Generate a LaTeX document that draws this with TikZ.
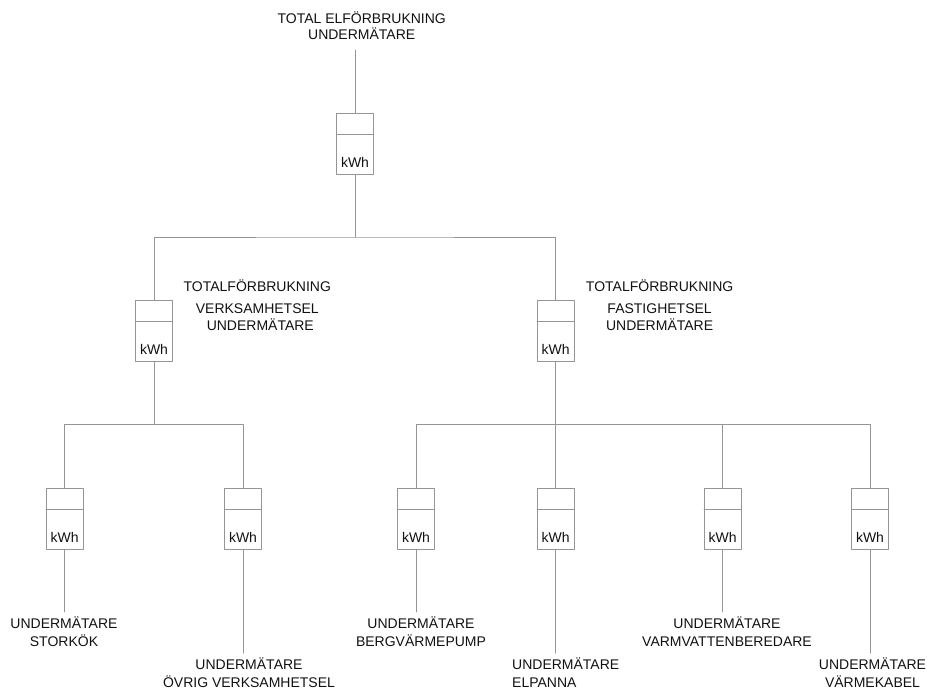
\documentclass[tikz,border=0pt]{standalone}
\usepackage{fontspec}
\setmainfont{Liberation Sans}
\usetikzlibrary{positioning}
\definecolor{linegray}{HTML}{959595}
\definecolor{txtgray}{HTML}{111111}
\tikzset{
  wire/.style={draw=linegray,line width=0.9pt},
  meter/.style={draw=linegray,line width=0.9pt,minimum width=36.5pt,minimum height=60.5pt,inner sep=0pt},
  kwh/.style={font=\fontsize{14}{16}\selectfont,text=txtgray,inner sep=0pt},
  lbl/.style={font=\fontsize{14}{18}\selectfont,text=txtgray,inner sep=0pt,align=center,anchor=north}
}
\newcommand{\kwhmeter}[3]{%
  \node[meter] (#1) at (#2,#3) {};
  \draw[wire] ([yshift=-21.5pt]#1.north west) -- ([yshift=-21.5pt]#1.north east);
  \node[kwh] (#1kwh) at ([yshift=12pt]#1.south) {kWh};
}
\begin{document}
\begin{tikzpicture}[line cap=round,line join=round,x=1pt,y=-1pt]
\useasboundingbox (0,0) rectangle (931,691);
\node[lbl,font=\fontsize{14}{16}\selectfont] (totalL) at (361.7,11.4) {TOTAL ELFÖRBRUKNING\\UNDERMÄTARE};
\kwhmeter{total}{355}{144}
\coordinate (feed) at (355,50);
\coordinate (busA) at (355,237);
\draw[wire] (feed) -- (total);
\draw[wire] (total) -- (busA);
\kwhmeter{verk}{154}{330.9}
\kwhmeter{fast}{555.7}{330.9}
\draw[wire] (verk) |- (busA) -| (fast);
\node[lbl,font=\fontsize{14}{17}\selectfont] (verkL) at (257.3,279.4) {TOTALFÖRBRUKNING\\[5pt]VERKSAMHETSEL\\\hspace*{6pt}UNDERMÄTARE};
\node[lbl,font=\fontsize{14}{17}\selectfont] (fastL) at (659.6,279.4) {TOTALFÖRBRUKNING\\[5pt]FASTIGHETSEL\\UNDERMÄTARE};
\coordinate (busB) at (154,424.7);
\coordinate (busC) at (555.7,424.7);
\draw[wire] (verk) -- (busB);
\draw[wire] (fast) -- (busC);
\kwhmeter{stor}{64.7}{518.7}
\kwhmeter{ovrig}{243}{518.7}
\kwhmeter{berg}{416}{518.7}
\kwhmeter{elp}{555.7}{518.7}
\kwhmeter{varmv}{722.7}{518.7}
\kwhmeter{vkabel}{870}{518.7}
\draw[wire] (stor) |- (busB) -| (ovrig);
\draw[wire] (berg) |- (busC) -| (vkabel);
\draw[wire] (elp) -- (busC);
\draw[wire] (varmv) |- (busC);
\node[lbl] (storL) at (64,616.5) {UNDERMÄTARE\\STORKÖK};
\node[lbl] (ovrigL) at (249,657.7) {UNDERMÄTARE\\ÖVRIG VERKSAMHETSEL};
\node[lbl] (bergL) at (421,616.5) {UNDERMÄTARE\\BERGVÄRMEPUMP};
\node[lbl,align=left,anchor=north west] (elpL) at (512,657.7) {UNDERMÄTARE\\ELPANNA};
\node[lbl] (varmvL) at (727,616.5) {UNDERMÄTARE\\VARMVATTENBEREDARE};
\node[lbl] (vkabelL) at (872.5,657.7) {UNDERMÄTARE\\VÄRMEKABEL};
\draw[wire] (stor) -- ([yshift=4.5pt]stor.south |- storL.north);
\draw[wire] (ovrig) -- ([yshift=4.5pt]ovrig.south |- ovrigL.north);
\draw[wire] (berg) -- ([yshift=4.5pt]berg.south |- bergL.north);
\draw[wire] (elp) -- ([yshift=4.5pt]elp.south |- elpL.north);
\draw[wire] (varmv) -- ([yshift=4.5pt]varmv.south |- varmvL.north);
\draw[wire] (vkabel) -- ([yshift=4.5pt]vkabel.south |- vkabelL.north);
\end{tikzpicture}
\end{document}
